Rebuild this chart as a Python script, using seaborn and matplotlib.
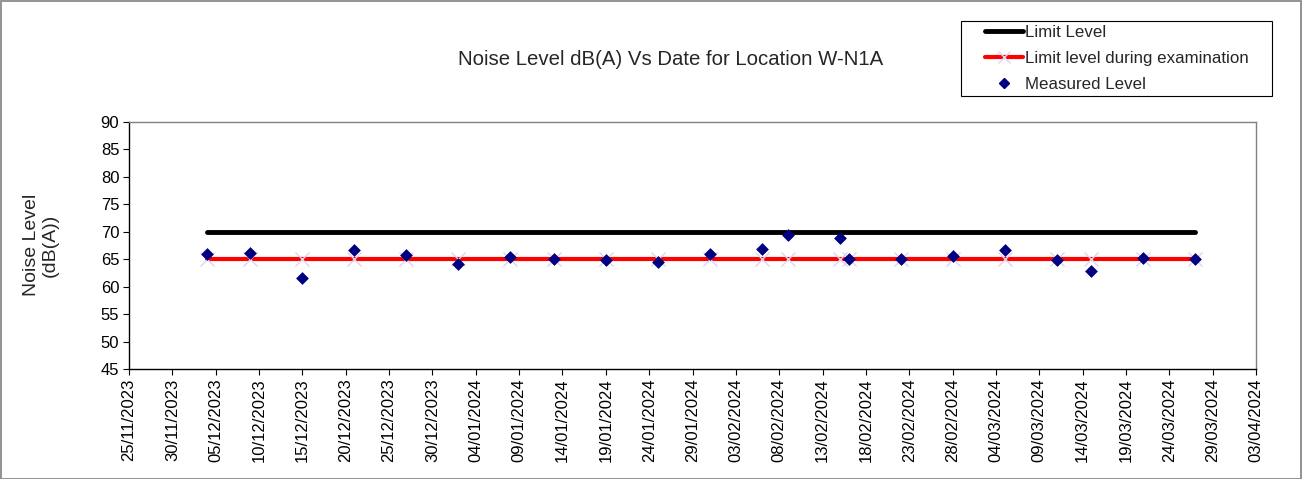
import matplotlib
matplotlib.use("Agg")
import matplotlib.pyplot as plt
import matplotlib.dates as mdates
from matplotlib.lines import Line2D
from matplotlib.patches import Rectangle
import pandas as pd
import seaborn as sns

# Monitoring dates and measured noise levels, dB(A)
dates = [
    "04/12/2023", "09/12/2023", "15/12/2023", "21/12/2023", "27/12/2023",
    "02/01/2024", "08/01/2024", "13/01/2024", "19/01/2024", "25/01/2024",
    "31/01/2024", "06/02/2024", "09/02/2024", "15/02/2024", "16/02/2024",
    "22/02/2024", "28/02/2024", "05/03/2024", "11/03/2024", "15/03/2024",
    "21/03/2024", "27/03/2024",
]
measured = [
    66.0, 66.1, 61.6, 66.7, 65.7,
    64.1, 65.3, 65.0, 64.8, 64.5,
    65.9, 66.9, 69.3, 68.9, 65.1,
    65.0, 65.5, 66.7, 64.8, 62.9,
    65.2, 65.0,
]
limit_level = [70] * len(dates)
exam_limit = [65] * len(dates)

x_start, x_end = "25/11/2023", "03/04/2024"
y_ticks = list(range(45, 91, 5))

title = "Noise Level dB(A) Vs Date for Location W-N1A"
y_label = "Noise Level\n(dB(A))"
series_names = ["Limit Level", "Limit level during examination", "Measured Level"]

df = pd.DataFrame({
    "date": pd.to_datetime(dates, format="%d/%m/%Y"),
    "measured": measured,
    "limit": limit_level,
    "exam": exam_limit,
})

sns.set_style("white")
plt.rcParams["font.family"] = ["Liberation Sans", "DejaVu Sans"]

W, H = 1303, 479
fig = plt.figure(figsize=(W / 100, H / 100), dpi=100)
ax = fig.add_axes([0.099, 0.2296, 0.865, 0.5164])

BLACK_LW, RED_LW = 3.5, 3.0
X_MARK_COLOR = "#dcd4f0"

sns.lineplot(data=df, x="date", y="limit", ax=ax, color="black", linewidth=BLACK_LW,
             solid_capstyle="round", zorder=2)
sns.lineplot(data=df, x="date", y="exam", ax=ax, color="#ff0000", linewidth=RED_LW,
             marker="x", markersize=10, markeredgecolor=X_MARK_COLOR,
             markeredgewidth=1.0, zorder=3)
sns.scatterplot(data=df, x="date", y="measured", ax=ax, marker="D", s=36,
                color="#000080", edgecolor="#000080", linewidth=0.5, zorder=4)

x0 = pd.to_datetime(x_start, format="%d/%m/%Y")
x1 = pd.to_datetime(x_end, format="%d/%m/%Y")
ax.set_xlim(x0, x1)
ax.set_ylim(45, 90)
ax.set_yticks(y_ticks)
ax.set_xticks(pd.date_range(x0, x1, freq="5D"))
ax.xaxis.set_major_formatter(mdates.DateFormatter("%d/%m/%Y"))
ax.tick_params(axis="x", rotation=90, labelsize=12, length=4, width=0.8,
               direction="out", bottom=True, pad=3, colors="black")
ax.tick_params(axis="y", labelsize=12, length=4, width=0.8,
               direction="out", left=True, pad=3, colors="black")
ax.set_xlabel("")
ax.set_ylabel(y_label, fontsize=14, labelpad=30, linespacing=1.15)

for side in ("left", "bottom"):
    ax.spines[side].set_color("black")
    ax.spines[side].set_linewidth(1.0)
for side in ("top", "right"):
    ax.spines[side].set_color("#808080")
    ax.spines[side].set_linewidth(1.0)

fig.text(0.515, 0.875, title, ha="center", va="center", fontsize=14.7)

# Legend entries, drawn without their own frame; the box is drawn separately
handles = [
    Line2D([], [], color="black", linewidth=BLACK_LW, solid_capstyle="round"),
    Line2D([], [], color="#ff0000", linewidth=RED_LW, marker="x", markersize=8,
           markeredgecolor=X_MARK_COLOR, markeredgewidth=1.0),
    Line2D([], [], color="#000080", marker="D", linestyle="none", markersize=5.5),
]
fig.legend(handles, series_names, loc="upper left",
           bbox_to_anchor=(985 / W, 1 - 25 / H), fontsize=12.2,
           frameon=False, handlelength=2.25, handletextpad=0.12,
           borderpad=0, labelspacing=0.66, borderaxespad=0)

fig.patches.append(Rectangle((960.7 / W, 1 - 96 / H), 311.3 / W, 75.3 / H,
                             transform=fig.transFigure, fill=False,
                             edgecolor="black", linewidth=0.8))
fig.patches.append(Rectangle((0.0005, 0.001), 0.998, 0.997, transform=fig.transFigure,
                             fill=False, edgecolor="#808080", linewidth=1.2))

fig.savefig("out.png", dpi=100)
